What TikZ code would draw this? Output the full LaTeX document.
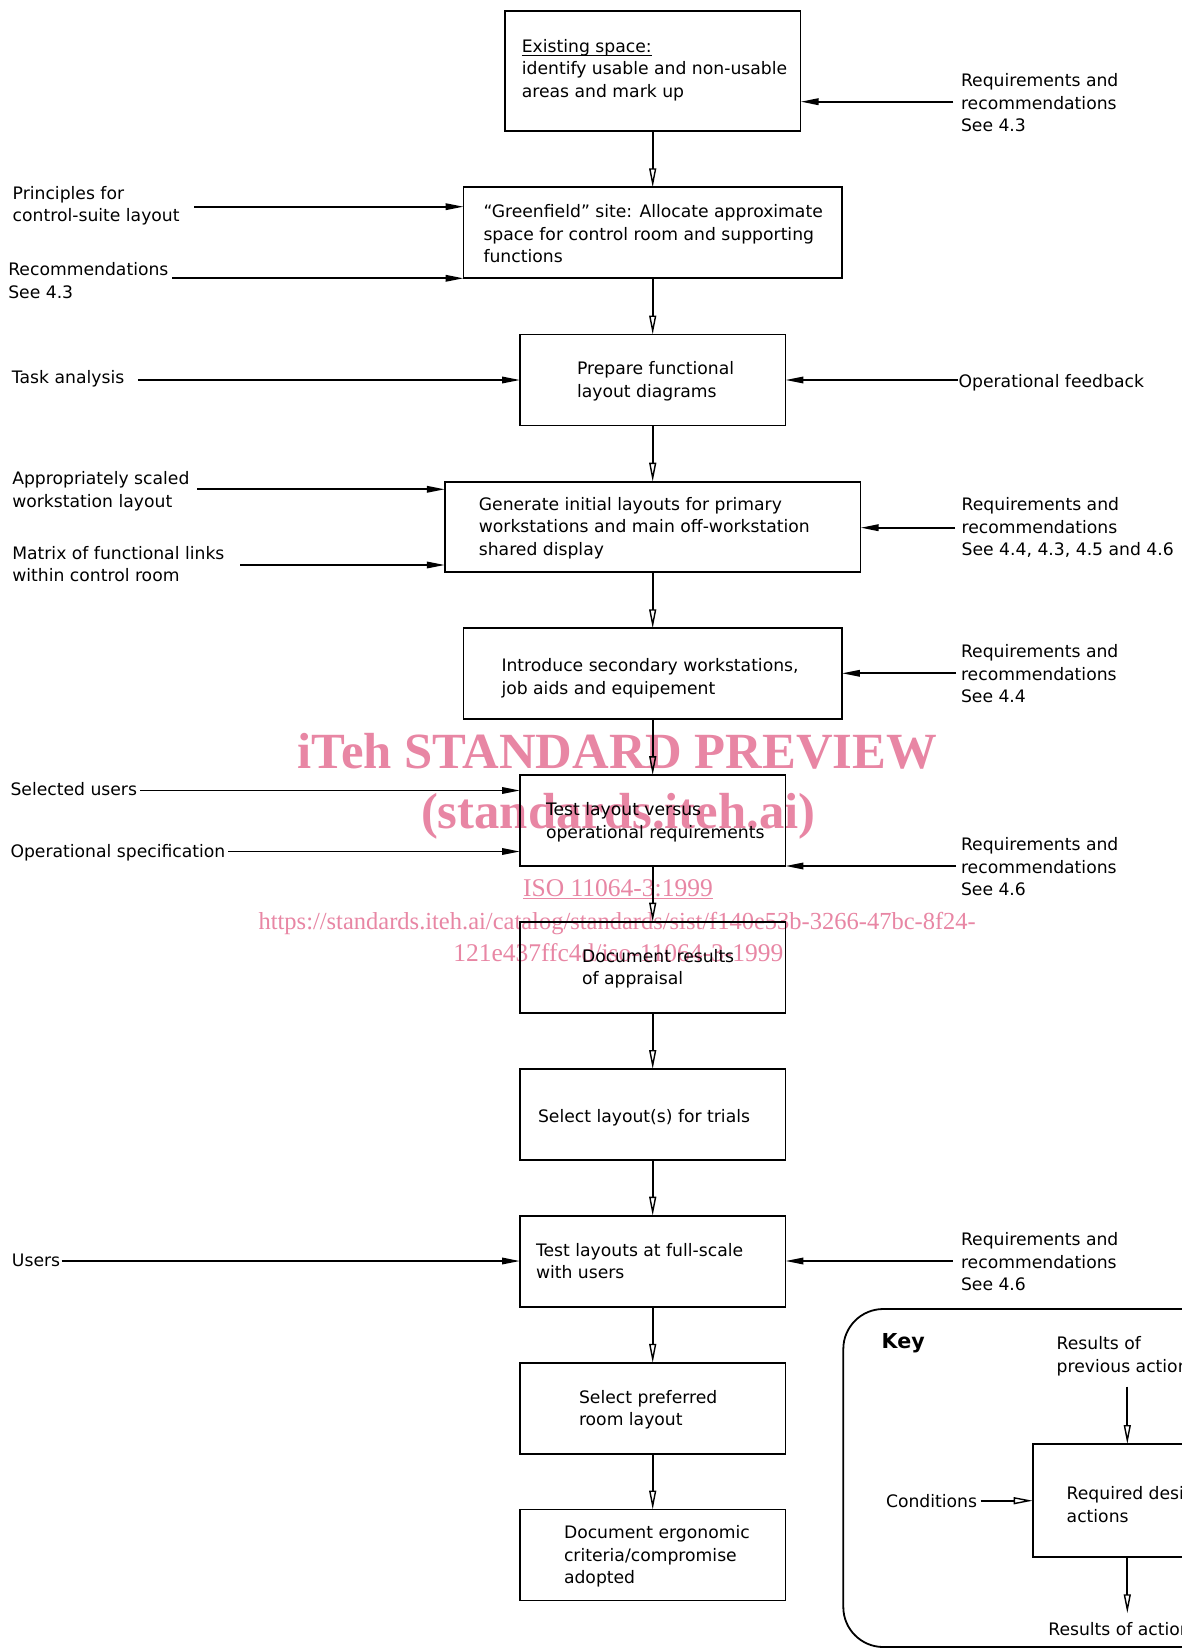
\documentclass[tikz,border=0pt]{standalone}
\usepackage{fontspec}
\setmainfont{DejaVu Sans}
\newfontfamily\wmfont{Liberation Serif}
\usetikzlibrary{arrows.meta}
\definecolor{wm}{RGB}{232,134,164}
\newcommand\ulx[1]{\setbox0\hbox{#1}\rlap{\rule[-3.5pt]{\wd0}{1.3pt}}\box0}
\begin{document}
\begin{tikzpicture}[x=1pt,y=-1pt,
  every node/.style={inner sep=0pt, outer sep=0pt},
  txt/.style={align=left, font=\fontsize{17.2}{22.5}\selectfont, execute at begin node=\strut, execute at end node=\strut},
  lbl/.style={txt, anchor=north west},
  box/.style={draw, line width=1.8pt, minimum width=265.4pt, minimum height=91pt},
  inarr/.style={line width=1.8pt, -{Triangle[length=18pt,width=6.5pt]}},
  downarr/.style={line width=1.8pt, -{Triangle[open,length=19pt,width=7pt,line width=1.4pt]}},
  wmtxt/.style={text=wm, anchor=base}
]
\useasboundingbox (0,0) rectangle (1181,1648);
\fill[white] (0,0) rectangle (1181,1648);

% watermark
\node[wmtxt, font=\wmfont\bfseries\fontsize{50.7}{55}\selectfont] (wm1) at (617.5,768.3) {iTeh STANDARD PREVIEW};
\node[wmtxt, font=\wmfont\bfseries\fontsize{50.7}{55}\selectfont] (wm2) at (618.2,828.3) {(standards.iteh.ai)};
\node[wmtxt, font=\wmfont\fontsize{25.5}{28}\selectfont] (wm3) at (618,896.7) {\underline{ISO 11064-3:1999}};
\node[wmtxt, font=\wmfont\fontsize{24.5}{28}\selectfont] (wm4) at (617.2,929) {https://standards.iteh.ai/catalog/standards/sist/f140e53b-3266-47bc-8f24-};
\node[wmtxt, font=\wmfont\fontsize{25.5}{28}\selectfont] (wm5) at (618.3,961.7) {121e437ffc4d/iso-11064-3-1999};

% main boxes
\node[box, minimum width=295.7pt, minimum height=120pt] (b1) at (652.7,70.7) {};
\node[box, minimum width=378.4pt] (b2) at (652.7,232.8) {};
\node[box] (b3) at (652.7,380) {};
\node[box, minimum width=415.7pt, minimum height=90pt] (b4) at (652.7,526.7) {};
\node[box, minimum width=378.4pt, minimum height=90.7pt] (b5) at (652.7,673.6) {};
\node[box] (b6) at (652.7,820.7) {};
\node[box] (b7) at (652.7,967.2) {};
\node[box] (b8) at (652.7,1114.5) {};
\node[box] (b9) at (652.7,1261.2) {};
\node[box] (b10) at (652.7,1408.3) {};
\node[box] (b11) at (652.7,1555) {};

% box texts
\node[txt, anchor=west] (t1) at ([xshift=17pt,yshift=-1pt]b1.west) {\ulx{Existing space:}\\identify usable and non-usable\\areas and mark up};
\node[txt, anchor=west] (t2) at ([xshift=20pt,yshift=-4.5pt]b2.west) {“Greenfield” site: Allocate approximate\\space for control room and supporting\\functions};
\node[txt, anchor=west] (t3) at ([xshift=57pt,yshift=-3pt]b3.west) {Prepare functional\\layout diagrams};
\node[txt, anchor=west] (t4) at ([xshift=34pt,yshift=-3pt]b4.west) {Generate initial layouts for primary\\workstations and main off-workstation\\shared display};
\node[txt, anchor=west] (t5) at ([xshift=38pt,yshift=-6pt]b5.west) {Introduce secondary workstations,\\job aids and equipement};
\node[txt, anchor=west] (t6) at ([xshift=26pt,yshift=-3pt]b6.west) {Test layout versus\\operational requirements};
\node[txt, anchor=west] (t7) at ([xshift=62pt,yshift=-3pt]b7.west) {Document results\\of appraisal};
\node[txt, anchor=west] (t8) at ([xshift=18pt,yshift=-3pt]b8.west) {Select layout(s) for trials};
\node[txt, anchor=west] (t9) at ([xshift=16pt,yshift=-3pt]b9.west) {Test layouts at full-scale\\with users};
\node[txt, anchor=west] (t10) at ([xshift=59pt,yshift=-3pt]b10.west) {Select preferred\\room layout};
\node[txt, anchor=west] (t11) at ([xshift=44pt,yshift=-3pt]b11.west) {Document ergonomic\\criteria/compromise\\adopted};

% main flow
\foreach \a/\b in {b1/b2,b2/b3,b3/b4,b4/b5,b5/b6,b6/b7,b7/b8,b8/b9,b9/b10,b10/b11}
  \draw[downarr] (\a.south) -- (\b.north);

% left labels
\node[lbl] (l1) at (12.7,186) {Principles for\\control-suite layout};
\node[lbl] (l2) at (8.3,262.8) {Recommendations\\See 4.3};
\node[lbl] (l3) at (12,368) {Task analysis};
\node[lbl] (l4) at (12.3,471.8) {Appropriately scaled\\workstation layout};
\node[lbl] (l5) at (12.3,546) {Matrix of functional links\\within control room};
\node[lbl] (l6) at (10.5,780) {Selected users};
\node[lbl] (l7) at (10.5,841.5) {Operational specification};
\node[lbl] (l8) at (12,1250.5) {Users};

% right labels
\node[lbl] (r1) at (961,73.5) {Requirements and\\recommendations\\See 4.3};
\node[lbl] (r3) at (958.6,371.8) {Operational feedback};
\node[lbl] (r4) at (961.7,497.5) {Requirements and\\recommendations\\See 4.4, 4.3, 4.5 and 4.6};
\node[lbl] (r5) at (961,644.5) {Requirements and\\recommendations\\See 4.4};
\node[lbl] (r6) at (961,837.5) {Requirements and\\recommendations\\See 4.6};
\node[lbl] (r9) at (961,1232.5) {Requirements and\\recommendations\\See 4.6};

% arrow start coordinates
\coordinate (la1) at (194,206.7);
\coordinate (la2) at (172,278.3);
\coordinate (la3) at (137.8,380);
\coordinate (la4) at (197.3,489.3);
\coordinate (la5) at (240,565);
\coordinate (la6) at (140,790.5);
\coordinate (la7) at (228,851.5);
\coordinate (la8) at (61.7,1261);
\coordinate (ra1) at (953.3,101.7);
\coordinate (ra3) at (958,380);
\coordinate (ra4) at (955,527.7);
\coordinate (ra5) at (956,673.3);
\coordinate (ra6) at (956,866);
\coordinate (ra9) at (952.6,1261);

\draw[inarr] (la1) -- (la1 -| b2.west);
\draw[inarr] (la2) -- (la2 -| b2.west);
\draw[inarr] (la3) -- (la3 -| b3.west);
\draw[inarr] (la4) -- (la4 -| b4.west);
\draw[inarr] (la5) -- (la5 -| b4.west);
\draw[inarr] (la6) -- (la6 -| b6.west);
\draw[inarr] (la7) -- (la7 -| b6.west);
\draw[inarr] (la8) -- (la8 -| b9.west);
\draw[inarr] (ra1) -- (ra1 -| b1.east);
\draw[inarr] (ra3) -- (ra3 -| b3.east);
\draw[inarr] (ra4) -- (ra4 -| b4.east);
\draw[inarr] (ra5) -- (ra5 -| b5.east);
\draw[inarr] (ra6) -- (ra6 -| b6.east);
\draw[inarr] (ra9) -- (ra9 -| b9.east);

% key
\draw[line width=1.8pt, rounded corners=40pt] (1230,1309) -- (843.3,1309) -- (843.3,1647) -- (1230,1647);
\node[anchor=base west, font=\fontsize{20.6}{24}\selectfont\bfseries] (key) at (881.7,1348.3) {Key};
\node[draw, line width=1.8pt, minimum width=300pt, minimum height=113pt] (kb) at (1182.7,1500.5) {};
\node[lbl] (kt) at (1056.7,1336.8) {Results of\\previous actions};
\node[lbl] (kr) at (1066.7,1486.5) {Required design\\actions};
\node[lbl] (kc) at (886,1491.5) {Conditions};
\node[lbl] (ko) at (1048.3,1619.5) {Results of actions};
\coordinate (k1) at (1127.3,1386.7);
\coordinate (k2) at (1127.3,1613.3);
\coordinate (k3) at (980.5,1500.7);
\draw[downarr] (k1) -- (k1 |- kb.north);
\draw[downarr] (k1 |- kb.south) -- (k2);
\draw[downarr] (k3) -- (k3 -| kb.west);
\end{tikzpicture}
\end{document}
